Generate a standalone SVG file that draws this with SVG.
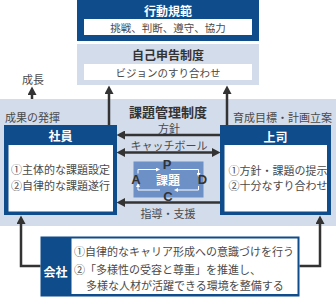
<svg xmlns="http://www.w3.org/2000/svg" width="336" height="300" viewBox="0 0 336 300">
<style>
text{font-family:"Noto Sans CJK JP","Noto Sans",sans-serif;dominant-baseline:central}
.dark{fill:#0f4c8c}
.light{fill:#d3dcea}
.white{fill:#ffffff}
.ttl{font-size:12px;font-weight:bold;text-anchor:middle}
.ttlw{fill:#ffffff}
.ttld{fill:#333333}
.body{font-size:10.5px;fill:#4a4a4a}
.mid{text-anchor:middle}
.lbl{font-size:11px;fill:#4a4a4a}
.pdca{font-family:"Liberation Sans",Arial,sans-serif;font-size:13px;font-weight:bold;fill:#333333;text-anchor:middle}
.conn{fill:none;stroke:#333333;stroke-width:2.5}
.mini{fill:none;stroke:#ffffff;stroke-width:1}
</style>
<defs>
<marker id="ah" markerUnits="userSpaceOnUse" markerWidth="9" markerHeight="9" viewBox="0 0 9 9" refX="5" refY="4.5" orient="auto-start-reverse">
<path d="M0,0 L8.5,4.5 L0,9 z" fill="#333333"/>
</marker>
<marker id="mh" markerUnits="userSpaceOnUse" markerWidth="4" markerHeight="4" viewBox="0 0 4 4" refX="1" refY="2" orient="auto">
<path d="M0,0 L4,2 L0,4 z" fill="#ffffff"/>
</marker>
</defs>
<rect x="0" y="0" width="336" height="300" fill="#ffffff"/>
<rect id="band" x="0" y="99" width="336" height="127" class="light"/>

<g id="kodo-kihan">
<rect x="77" y="0" width="182" height="41" class="dark"/>
<rect x="84" y="19" width="168" height="16" class="white"/>
<text x="168" y="10" class="ttl ttlw">行動規範</text>
<text x="168" y="27" class="body mid">挑戦、判断、遵守、協力</text>
</g>

<g id="jiko-shinkoku">
<rect x="77" y="44" width="182" height="41" class="light"/>
<rect x="84" y="64" width="168" height="16" class="white"/>
<text x="168" y="54" class="ttl ttld">自己申告制度</text>
<text x="168" y="72" class="body mid">ビジョンのすり合わせ</text>
</g>

<g id="labels">
<text x="33" y="79" class="lbl mid">成長</text>
<text x="5" y="116.5" class="lbl">成果の発揮</text>
<text x="332" y="116.5" class="lbl" text-anchor="end">育成目標・計画立案</text>
<text x="168" y="111" class="ttl ttld" style="font-size:13px">課題管理制度</text>
<text x="169" y="127.5" class="lbl mid">方針</text>
<text x="169" y="144.5" class="lbl mid">キャッチボール</text>
<text x="168" y="213" class="lbl mid">指導・支援</text>
</g>

<g id="shain">
<rect x="4" y="125" width="113" height="90" class="dark"/>
<rect x="8.5" y="145" width="104.5" height="66.5" class="white"/>
<text x="60.5" y="135" class="ttl ttlw">社員</text>
<text x="11" y="169" class="lbl">①主体的な課題設定</text>
<text x="11" y="184.5" class="lbl">②自律的な課題遂行</text>
</g>

<g id="joshi">
<rect x="220" y="125" width="111" height="90" class="dark"/>
<rect x="224.5" y="145" width="102.5" height="66.5" class="white"/>
<text x="275.5" y="136" class="ttl ttlw">上司</text>
<text x="228.5" y="169.5" class="lbl">①方針・課題の提示</text>
<text x="228.5" y="185" class="lbl">②十分なすり合わせ</text>
</g>

<g id="pdca">
<rect x="133.5" y="161.5" width="70" height="36" fill="#6d90c7"/>
<path class="mini" d="M138,173.5 V169.5 H157" marker-end="url(#mh)"/>
<path class="mini" d="M171,169.5 H198.5 V174" marker-end="url(#mh)"/>
<path class="mini" d="M198.5,186 V190 H177" marker-end="url(#mh)"/>
<path class="mini" d="M160,190 H138 V186" marker-end="url(#mh)"/>
<text x="168" y="179.5" class="ttl ttlw">課題</text>
<text x="167" y="164.5" class="pdca">P</text>
<text x="202.5" y="179.5" class="pdca">D</text>
<text x="168" y="196.5" class="pdca">C</text>
<text x="136" y="179.5" class="pdca">A</text>
</g>

<g id="kaisha">
<rect x="40.5" y="236.5" width="259" height="60" class="dark"/>
<rect x="71.5" y="238.5" width="226" height="55.5" class="white"/>
<text x="55.5" y="271" class="ttl ttlw">会社</text>
<text x="74" y="250.5" class="lbl">①自律的なキャリア形成への意識づけを行う</text>
<text x="74" y="269" class="lbl">②「多様性の受容と尊重」を推進し、</text>
<text x="86" y="284.5" class="lbl">多様な人材が活躍できる環境を整備する</text>
</g>

<g id="connectors">
<path class="conn" d="M32,99 V90" marker-end="url(#ah)"/>
<path class="conn" d="M109,125 V89" marker-end="url(#ah)"/>
<path class="conn" d="M227,125 V89" marker-end="url(#ah)"/>
<path class="conn" d="M220,135 H120" marker-end="url(#ah)"/>
<path class="conn" d="M120,152.5 H217" marker-start="url(#ah)" marker-end="url(#ah)"/>
<path class="conn" d="M220,202.5 H120" marker-end="url(#ah)"/>
<path class="conn" d="M40.5,266 H21 V219" marker-end="url(#ah)"/>
<path class="conn" d="M299.5,266 H320 V219" marker-end="url(#ah)"/>
</g>
</svg>
